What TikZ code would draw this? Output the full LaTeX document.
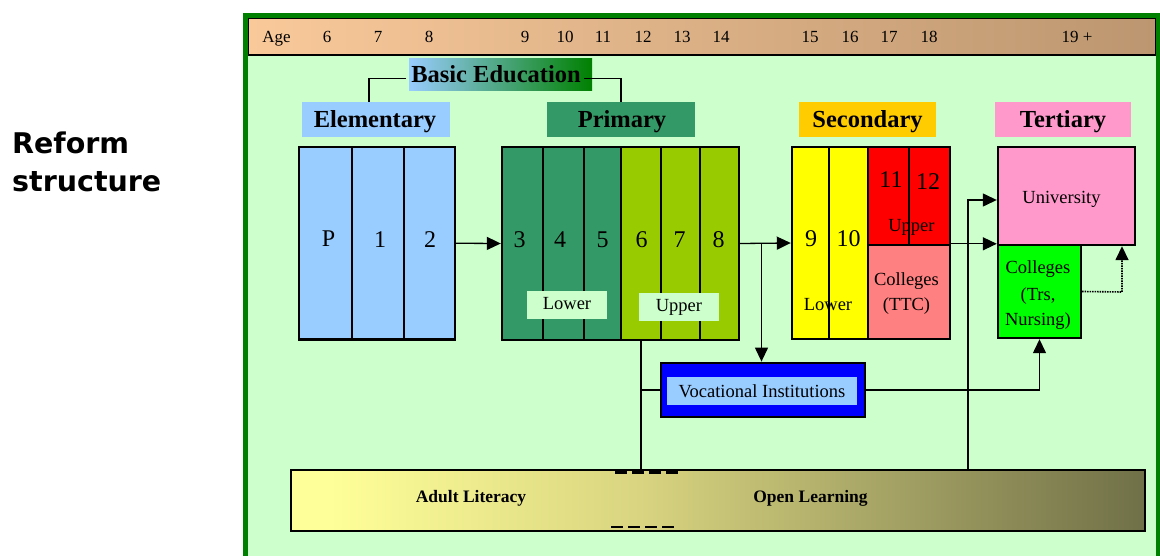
\documentclass[tikz,border=0pt]{standalone}
\usepackage{fontspec}
\setmainfont{Liberation Serif}
\newfontfamily\dejavu{DejaVu Sans}
\usetikzlibrary{arrows.meta}
\newcommand{\myfs}[1]{\fontsize{#1}{#1}\selectfont}
\definecolor{bgG}{HTML}{CCFFCC}
\definecolor{frameG}{HTML}{008000}
\definecolor{ageL}{HTML}{F9C99A}
\definecolor{ageR}{HTML}{BC9670}
\definecolor{lblue}{HTML}{99CCFF}
\definecolor{primG}{HTML}{339966}
\definecolor{upG}{HTML}{99CC00}
\definecolor{secY}{HTML}{FFCC00}
\definecolor{terP}{HTML}{FF99CC}
\definecolor{yel}{HTML}{FFFF00}
\definecolor{redC}{HTML}{FF0000}
\definecolor{salmon}{HTML}{FF8080}
\definecolor{collG}{HTML}{00FF00}
\definecolor{vocB}{HTML}{0000FF}
\definecolor{barL}{HTML}{FFFF99}
\definecolor{barM}{HTML}{D8D480}
\definecolor{barR}{HTML}{707048}
\begin{document}
\begin{tikzpicture}[x=1pt,y=-1pt,
  cell/.style={draw=black, line width=2.4pt, inner sep=0pt},
  num/.style={inner sep=0pt, font=\myfs{24}},
  small/.style={inner sep=0pt, anchor=base, font=\myfs{18.5}},
  hdr/.style={inner sep=0pt, anchor=base, font=\myfs{24.5}\bfseries},
  hbox/.style={inner sep=0pt, minimum height=35pt},
  conn/.style={line width=1.3pt, draw=black},
  arr/.style={conn, -{Triangle[length=14pt,width=13pt]}},
  agel/.style={anchor=base, inner sep=0pt, font=\myfs{17}}]

\useasboundingbox (0,0) rectangle (1160,556);
\fill[white] (0,0) rectangle (1160,556);
\fill[bgG] (245,15) rectangle (1160,556);

% title
\node[anchor=base west, inner sep=0pt, font=\dejavu\bfseries\myfs{28.5}] (r1) at (12,154) {Reform};
\node[anchor=base west, inner sep=0pt, font=\dejavu\bfseries\myfs{28.5}] (r2) at (12,192) {structure};

% age bar
\node[draw=black, line width=2.5pt, left color=ageL, right color=ageR, minimum width=908pt, minimum height=37pt, inner sep=0pt] (agebar) at (702,36.5) {};
\foreach \t/\x [count=\i] in {Age/276.5,6/327,7/378,8/429,9/525,10/565,11/603,12/643,13/682,14/721,15/810,16/850,17/889,18/929,19 +/1077}
  \node[agel] (age\i) at (\x,43) {\t};

% frame
\draw[frameG, line width=4.5pt] (245.5,15.5) rectangle (1158.5,600);

% basic education
\node[left color=lblue, right color=frameG, minimum width=183pt, minimum height=32pt, inner sep=0pt] (basic) at (500.5,75) {};
\node[hdr] (basictxt) at (496,83) {Basic Education};

% headers
\node[hbox, fill=lblue, minimum width=148pt] (elem) at (376,119.5) {};
\node[hdr] (elemtxt) at (375,127.5) {Elementary};
\node[hbox, fill=primG, minimum width=148pt] (prim) at (621,119.5) {};
\node[hdr] (primtxt) at (622,127.5) {Primary};
\node[hbox, fill=secY, minimum width=137pt] (sec) at (867.5,119.5) {};
\node[hdr] (sectxt) at (867.5,127.5) {Secondary};
\node[hbox, fill=terP, minimum width=136pt] (ter) at (1063,119.5) {};
\node[hdr] (tertxt) at (1063,127.5) {Tertiary};

\draw[line width=1.2pt] ([xshift=-5pt,yshift=-4pt]basictxt.west) -| ([xshift=-7pt]elem.north);
\draw[line width=1.2pt] ([xshift=3pt,yshift=-4pt]basictxt.east) -| (prim.north);

% elementary cells
\node[cell, fill=lblue, minimum width=53pt, minimum height=192.5pt] (e0) at (325.5,243.25) {};
\node[cell, fill=lblue, minimum width=52pt, minimum height=192.5pt] (e1) at (378,243.25) {};
\node[cell, fill=lblue, minimum width=51pt, minimum height=192.5pt] (e2) at (429.5,243.25) {};
\node[num] (tP) at (328.5,238.5) {P};
\node[num] (t1) at (380,239.5) {1};
\node[num] (t2) at (430,239.5) {2};

% primary cells
\node[cell, fill=primG, minimum width=41pt, minimum height=193pt] (p3) at (522.5,243.5) {};
\node[cell, fill=primG, minimum width=41pt, minimum height=193pt] (p4) at (563.5,243.5) {};
\node[cell, fill=primG, minimum width=37pt, minimum height=193pt] (p5) at (602.5,243.5) {};
\node[cell, fill=upG, minimum width=40pt, minimum height=193pt] (p6) at (641,243.5) {};
\node[cell, fill=upG, minimum width=39pt, minimum height=193pt] (p7) at (680.5,243.5) {};
\node[cell, fill=upG, minimum width=39pt, minimum height=193pt] (p8) at (719.5,243.5) {};
\node[num] (t3) at (519.5,239.5) {3};
\node[num] (t4) at (560,239.5) {4};
\node[num] (t5) at (602.5,239.5) {5};
\node[num] (t6) at (641.5,239.5) {6};
\node[num] (t7) at (679.5,239.5) {7};
\node[num] (t8) at (718.5,239.5) {8};
\node[fill=bgG, inner sep=0pt, minimum width=80pt, minimum height=28pt] (lowbox) at (567,305) {};
\node[small] (lowtxt) at (567,309.5) {Lower};
\node[fill=bgG, inner sep=0pt, minimum width=80pt, minimum height=28pt] (upbox) at (679,307) {};
\node[small] (uptxt) at (679,311.5) {Upper};

% secondary cells
\node[cell, fill=yel, minimum width=37pt, minimum height=192pt] (s9) at (810.5,243) {};
\node[cell, fill=yel, minimum width=39pt, minimum height=192pt] (s10) at (848.5,243) {};
\node[cell, fill=redC, minimum width=41pt, minimum height=98pt] (s11) at (888.5,196) {};
\node[cell, fill=redC, minimum width=41pt, minimum height=98pt] (s12) at (929.5,196) {};
\node[cell, fill=salmon, minimum width=82pt, minimum height=94pt] (sc) at (909,292) {};
\node[num] (t9) at (811,238.5) {9};
\node[num] (t10) at (848.5,238.5) {10};
\node[num] (t11) at (891,180) {11};
\node[num] (t12) at (928,181.5) {12};
\node[small] (supper) at (911.5,232) {Upper};
\node[small] (slower) at (828,311) {Lower};
\node[small] (sc1) at (906.5,285.5) {Colleges};
\node[small] (sc2) at (906.5,311) {(TTC)};

% tertiary
\node[cell, fill=terP, minimum width=137pt, minimum height=98pt] (univ) at (1066.5,196) {};
\node[cell, fill=collG, minimum width=83pt, minimum height=93pt] (coll) at (1039.5,291.5) {};
\node[small] (univtxt) at (1061.5,204) {University};
\node[small] (cg1) at (1038,274) {Colleges};
\node[small] (cg2) at (1038,300.5) {(Trs,};
\node[small] (cg3) at (1038,325) {Nursing)};

% vocational
\node[draw=black, line width=2.8pt, fill=vocB, inner sep=0pt, minimum width=204pt, minimum height=54pt] (voc) at (763,390) {};
\node[fill=lblue, inner sep=0pt, minimum width=190pt, minimum height=28pt, font=\myfs{18.5}] (vocin) at (762,391) {Vocational Institutions};

% bottom bar
\fill[barL] (291,470) rectangle (330,531);
\shade[left color=barL, right color=barM] (330,470) rectangle (640,531);
\shade[left color=barM, right color=barR] (640,470) rectangle (1145,531);
\node[draw=black, line width=2.5pt, inner sep=0pt, minimum width=854pt, minimum height=61pt] (bar) at (718,500.5) {};
\node[inner sep=0pt, anchor=base, font=\myfs{17.5}\bfseries] (adult) at (471,502) {Adult Literacy};
\node[inner sep=0pt, anchor=base, font=\myfs{17.5}\bfseries] (open) at (810.5,502) {Open Learning};
\draw[line width=2.5pt, dash pattern=on 12pt off 5pt] (615,472.5) -- (680,472.5);
\draw[line width=2.5pt, dash pattern=on 12pt off 5pt] (611,527) -- (677,527);

% connectors
\draw[arr] (e2.east) -- (p3.west);
\draw[arr] (p8.east) -- (s9.west);
\coordinate (jv) at (761.5,243.5);
\draw[arr] (jv) -- (jv |- voc.north);
\draw[conn] (p6.south) -- (p6.south |- bar.north);
\draw[conn] (p6.south |- voc.west) -- (voc.west);
\draw[arr] (voc.east) -| (coll.south);
\draw[arr] (sc.north east) -- (coll.north west);
\coordinate (jol) at (968,200);
\draw[arr] (jol |- bar.north) -- (jol) -- (jol -| univ.west);
\coordinate (jd) at (1122,292);
\draw[arr, line width=1.6pt, dash pattern=on 1.5pt off 1pt] (coll.east) -- (jd) -- (jd |- univ.south);
\end{tikzpicture}
\end{document}
